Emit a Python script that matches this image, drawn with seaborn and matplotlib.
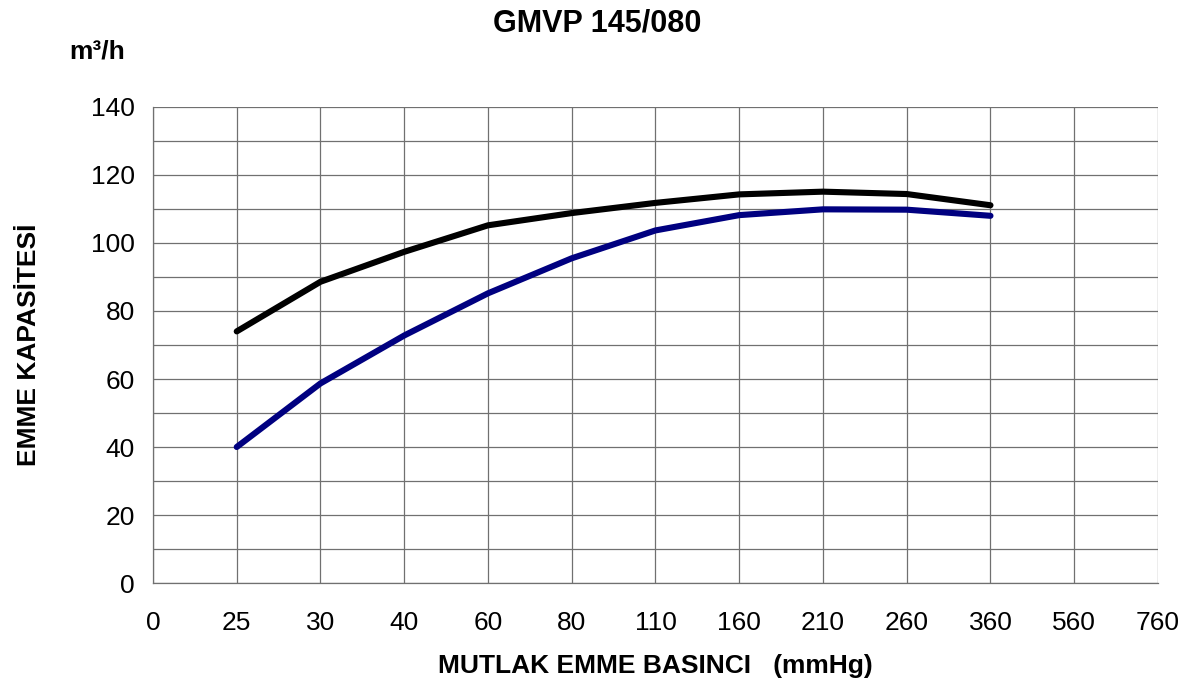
import numpy as np
import pandas as pd
import matplotlib
matplotlib.use("Agg")
import matplotlib.pyplot as plt
import seaborn as sns

# eksen etiketleri (mmHg) - kategorik eksen
basinc_etiketleri = ["0", "25", "30", "40", "60", "80", "110", "160", "210", "260", "360", "560", "760"]
olcum_basinclari = ["25", "30", "40", "60", "80", "110", "160", "210", "260", "360"]

# emme kapasitesi (m3/h)
kapasite_siyah = [74, 88.6, 97.4, 105.2, 108.8, 111.8, 114.3, 115.1, 114.4, 111.1]
kapasite_mavi = [40, 58.7, 72.8, 85.2, 95.5, 103.7, 108.2, 109.9, 109.8, 108.0]


def veri_hazirla():
    """Seri verilerini uzun formata çevirir."""
    konum = [basinc_etiketleri.index(b) for b in olcum_basinclari]
    df1 = pd.DataFrame({"x": konum, "y": kapasite_siyah, "seri": "siyah"})
    df2 = pd.DataFrame({"x": konum, "y": kapasite_mavi, "seri": "mavi"})
    return pd.concat([df1, df2], ignore_index=True)


def ciz():
    sns.set_style("white", {"text.color": "black", "axes.labelcolor": "black",
                            "xtick.color": "black", "ytick.color": "black"})
    plt.rcParams["font.family"] = ["Liberation Sans", "DejaVu Sans"]

    fig = plt.figure(figsize=(11.97, 6.85), dpi=100)
    ax = fig.add_axes([0.1278, 0.1489, 0.8396, 0.6949])

    df = veri_hazirla()
    sns.lineplot(data=df, x="x", y="y", hue="seri",
                 palette={"siyah": "#000000", "mavi": "#000080"},
                 linewidth=4.4, legend=False, ax=ax,
                 solid_capstyle="round", solid_joinstyle="round")

    ax.set_xlim(0, len(basinc_etiketleri) - 1)
    ax.set_ylim(0, 140)
    ax.set_xticks(range(len(basinc_etiketleri)))
    ax.set_xticklabels(basinc_etiketleri)
    ax.set_yticks(np.arange(0, 141, 20))
    ax.set_yticks(np.arange(10, 140, 20), minor=True)

    ax.grid(True, which="both", color="#707070", linewidth=0.9)
    ax.set_axisbelow(True)
    for s in ["top", "right"]:
        ax.spines[s].set_visible(False)
    for s in ["left", "bottom"]:
        ax.spines[s].set_color("#707070")
        ax.spines[s].set_linewidth(0.9)

    ax.tick_params(axis="y", which="both", direction="out", length=5,
                   color="#707070", labelsize=19, pad=8)
    ax.tick_params(axis="x", length=0, labelsize=19, pad=20)

    ax.set_xlabel("MUTLAK EMME BASINCI   (mmHg)", fontsize=19, fontweight="bold", labelpad=14)
    ax.set_ylabel("EMME KAPASİTESİ", fontsize=19, fontweight="bold", labelpad=36)

    fig.text(0.499, 0.965, "GMVP 145/080", ha="center", va="center",
             fontsize=22, fontweight="bold")
    fig.text(0.081, 0.925, "m³/h", ha="center", va="center",
             fontsize=19, fontweight="bold")

    fig.savefig("out.png", dpi=100)


if __name__ == "__main__":
    ciz()
